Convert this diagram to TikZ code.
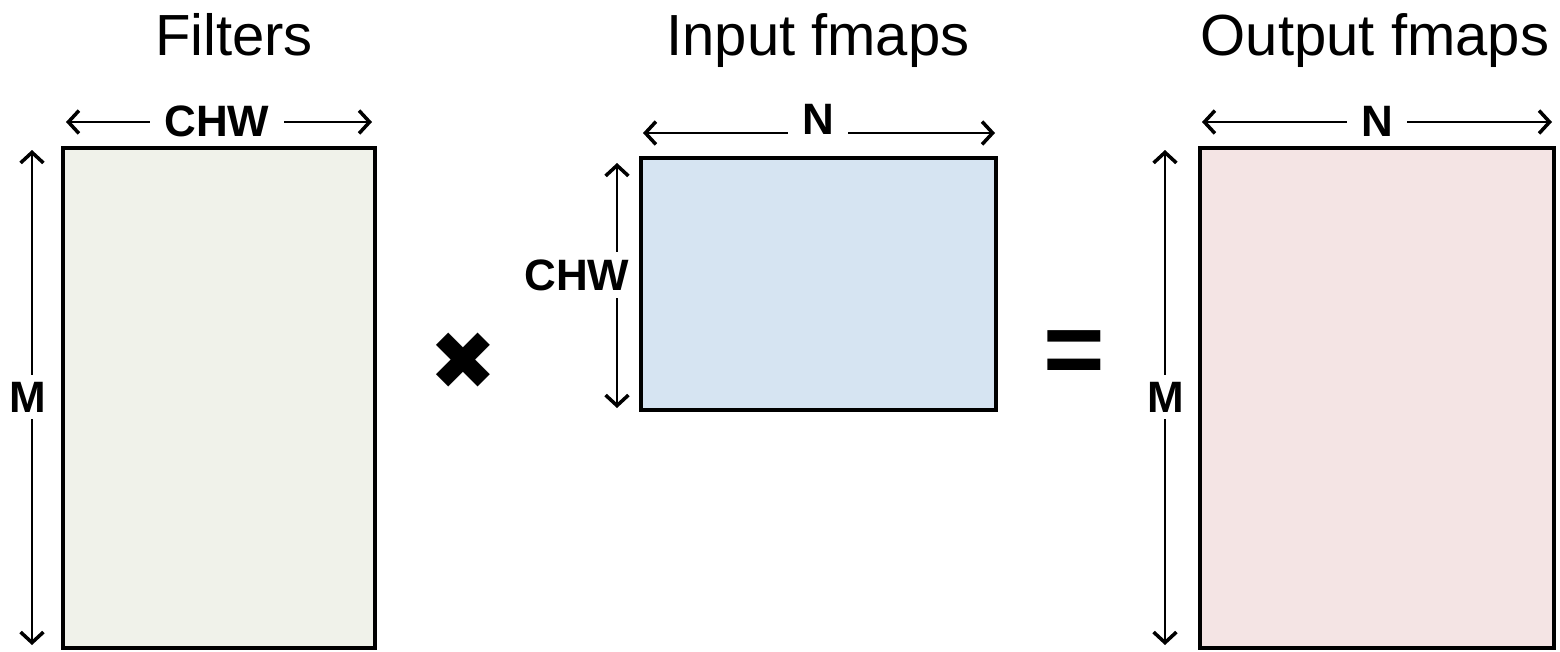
\documentclass[tikz,border=0pt]{standalone}
\usepackage{fontspec}
\setmainfont{Liberation Sans}
\newfontfamily\symfont{DejaVu Sans}
\usetikzlibrary{arrows.meta}

\definecolor{filtfill}{HTML}{F0F2EA}
\definecolor{infill}{HTML}{D6E4F2}
\definecolor{outfill}{HTML}{F4E4E4}

\begin{document}
\begin{tikzpicture}[x=0.01cm,y=-0.01cm,
		matbox/.style={draw,line width=1.2pt,inner sep=0pt},
		dimline/.style={line width=0.65pt,{Straight Barb[length=3pt,width=6.5pt,line width=1pt]}-{Straight Barb[length=3pt,width=6.5pt,line width=1pt]}},
		dimlabel/.style={font=\fontsize{12.5}{12.5}\selectfont\bfseries,fill=white,inner ysep=2pt,inner xsep=4pt},
		title/.style={font=\fontsize{16.5}{16.5}\selectfont,anchor=base}]
		\useasboundingbox (0,0) rectangle (1560,651);

		% matrices
		\node[matbox,fill=filtfill,minimum width=3.12cm,minimum height=5.0cm] (filt) at (219,398) {};
		\node[matbox,fill=infill,minimum width=3.55cm,minimum height=2.52cm] (inp) at (818.5,284) {};
		\node[matbox,fill=outfill,minimum width=3.54cm,minimum height=5.0cm] (outp) at (1377,398) {};

		% titles
		\node[title] (filttitle) at (234,55) {Filters};
		\node[title] (inptitle) at (818,55) {Input fmaps};
		\node[title] (outptitle) at (1375,55) {Output fmaps};

		% dimension ends
		\coordinate (ft1) at (66,122);
		\coordinate (ft2) at (372,122);
		\coordinate (fl1) at (32,150);
		\coordinate (fl2) at (32,645);
		\coordinate (it1) at (643,133);
		\coordinate (it2) at (995,133);
		\coordinate (il1) at (617,163);
		\coordinate (il2) at (617,408);
		\coordinate (ot1) at (1202,122);
		\coordinate (ot2) at (1552,122);
		\coordinate (ol1) at (1165,150);
		\coordinate (ol2) at (1165,645);

		\draw[dimline] (ft1) -- (ft2);
		\draw[dimline] (fl1) -- (fl2);
		\draw[dimline] (it1) -- (it2);
		\draw[dimline] (il1) -- (il2);
		\draw[dimline] (ot1) -- (ot2);
		\draw[dimline] (ol1) -- (ol2);

		\node[dimlabel] (fchw) at (217,121) {CHW};
		\node[dimlabel] (fm) at (28,397) {M};
		\node[dimlabel] (in) at (818,119) {N};
		\node[dimlabel,inner xsep=1pt] (ichw) at (577,275) {CHW};
		\node[dimlabel] (on) at (1377,121) {N};
		\node[dimlabel] (om) at (1166,397) {M};

		% operators
		\node[font=\symfont\fontsize{23}{23}\selectfont] (times) at (463,361) {✖};
		\node[font=\fontsize{30}{30}\selectfont\bfseries] (equals) at (1074,358) {=};
\end{tikzpicture}
\end{document}
